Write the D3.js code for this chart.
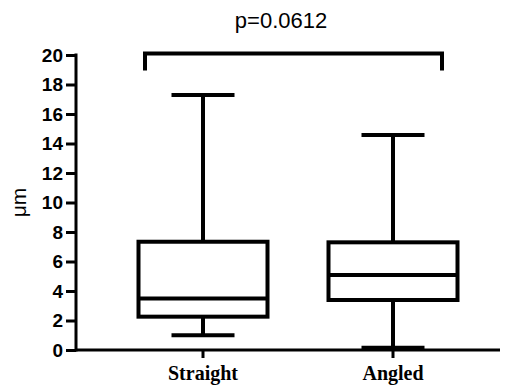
<!DOCTYPE html>
<html>
<head>
<meta charset="utf-8">
<script src="https://cdn.jsdelivr.net/npm/d3@7"></script>
<style>
  body { margin: 0; background: #fff; }
  svg { display: block; }
</style>
</head>
<body>
<div id="chart"></div>
<script>
const categories = ["Straight", "Angled"];
const whiskerLow = [1.0, 0.15];
const q1 = [2.26, 3.39];
const median = [3.5, 5.08];
const q3 = [7.34, 7.3];
const whiskerHigh = [17.29, 14.58];
const yTicks = [0, 2, 4, 6, 8, 10, 12, 14, 16, 18, 20];
const pLabel = "p=0.0612";
const bracketValue = 20.1;

const width = 513, height = 389;
const svg = d3.select("#chart").append("svg")
  .attr("width", width).attr("height", height);

const y = d3.scaleLinear().domain([0, 20]).range([350, 55]);
const x = d3.scalePoint().domain(categories).range([203, 393]);
const boxW = 129, capW = 63;

// y axis
const yAxis = svg.append("g")
  .attr("transform", "translate(76,0)")
  .call(d3.axisLeft(y).tickValues(yTicks).tickSize(10).tickPadding(3).tickSizeOuter(0));
yAxis.select(".domain").attr("stroke-width", 3).attr("stroke", "#000");
yAxis.selectAll(".tick line").attr("stroke-width", 3);
yAxis.selectAll(".tick text")
  .attr("font-family", "Liberation Sans, Arial, sans-serif")
  .attr("font-weight", "bold").attr("font-size", 19).attr("fill", "#000");
yAxis.select(".domain").attr("d", "M0," + (y(20) - 1.5) + "V" + (y(0) + 1.5));

// x axis
svg.append("line")
  .attr("x1", 76).attr("x2", 500).attr("y1", y(0)).attr("y2", y(0))
  .attr("stroke", "#000").attr("stroke-width", 3);
const xg = svg.append("g");
xg.selectAll("line").data(categories).join("line")
  .attr("x1", d => x(d)).attr("x2", d => x(d))
  .attr("y1", y(0)).attr("y2", y(0) + 8)
  .attr("stroke", "#000").attr("stroke-width", 3);
xg.selectAll("text").data(categories).join("text")
  .attr("x", d => x(d)).attr("y", 380)
  .attr("text-anchor", "middle")
  .attr("font-family", "Liberation Serif, Times New Roman, serif")
  .attr("font-weight", "bold").attr("font-size", 20)
  .text(d => d);

// y label
svg.append("text")
  .attr("transform", "translate(26," + ((y(0) + y(20)) / 2) + ") rotate(-90)")
  .attr("text-anchor", "middle")
  .attr("font-family", "Liberation Sans, Arial, sans-serif")
  .attr("font-size", 21)
  .text("\u03bcm");

// boxes
const boxes = svg.selectAll("g.box").data(categories).join("g").attr("class", "box");
const stroke = 4;
boxes.append("line") // upper whisker
  .attr("x1", d => x(d)).attr("x2", d => x(d))
  .attr("y1", (d, i) => y(whiskerHigh[i])).attr("y2", (d, i) => y(q3[i]))
  .attr("stroke", "#000").attr("stroke-width", stroke);
boxes.append("line") // lower whisker
  .attr("x1", d => x(d)).attr("x2", d => x(d))
  .attr("y1", (d, i) => y(whiskerLow[i])).attr("y2", (d, i) => y(q1[i]))
  .attr("stroke", "#000").attr("stroke-width", stroke);
boxes.append("line")
  .attr("x1", d => x(d) - capW / 2).attr("x2", d => x(d) + capW / 2)
  .attr("y1", (d, i) => y(whiskerHigh[i])).attr("y2", (d, i) => y(whiskerHigh[i]))
  .attr("stroke", "#000").attr("stroke-width", stroke);
boxes.append("line")
  .attr("x1", d => x(d) - capW / 2).attr("x2", d => x(d) + capW / 2)
  .attr("y1", (d, i) => y(whiskerLow[i])).attr("y2", (d, i) => y(whiskerLow[i]))
  .attr("stroke", "#000").attr("stroke-width", stroke);
boxes.append("rect")
  .attr("x", d => x(d) - boxW / 2).attr("width", boxW)
  .attr("y", (d, i) => y(q3[i])).attr("height", (d, i) => y(q1[i]) - y(q3[i]))
  .attr("fill", "#fff").attr("stroke", "#000").attr("stroke-width", stroke);
boxes.append("line")
  .attr("x1", d => x(d) - boxW / 2).attr("x2", d => x(d) + boxW / 2)
  .attr("y1", (d, i) => y(median[i])).attr("y2", (d, i) => y(median[i]))
  .attr("stroke", "#000").attr("stroke-width", stroke);

// significance bracket
const by = y(bracketValue);
svg.append("path")
  .attr("d", `M145,${by + 17}V${by}H442V${by + 17}`)
  .attr("fill", "none").attr("stroke", "#000").attr("stroke-width", 4);
svg.append("text")
  .attr("x", 281).attr("y", 28)
  .attr("text-anchor", "middle")
  .attr("font-family", "Liberation Sans, Arial, sans-serif")
  .attr("font-size", 22)
  .text(pLabel);
</script>
</body>
</html>
